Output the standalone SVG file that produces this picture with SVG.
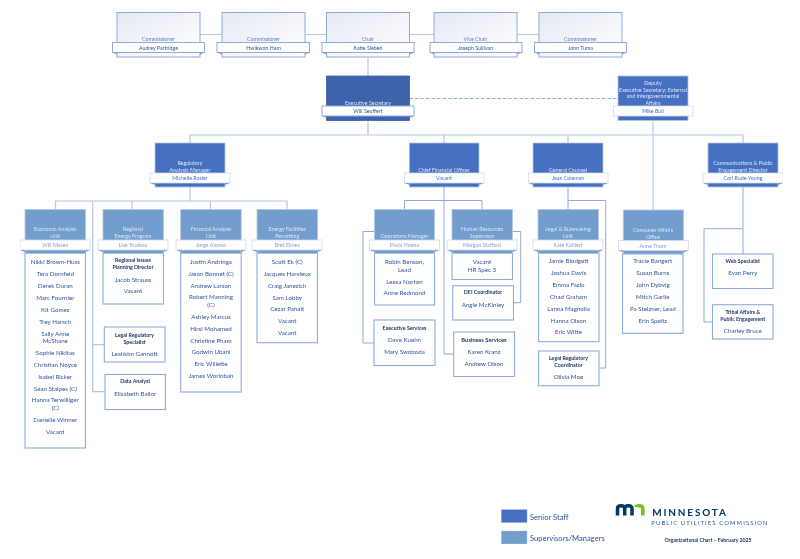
<svg xmlns="http://www.w3.org/2000/svg" width="800" height="559" viewBox="0 0 800 559">
<style>
text{font-family:Lato,"Liberation Sans",sans-serif;text-anchor:middle;dominant-baseline:central}
.c{fill:url(#cg);stroke:#8FAADC;stroke-width:1}
.s{fill:#4470C2;stroke:#B4C7E7;stroke-width:.8}
.x{fill:#3C64AC;stroke:#3C64AC;stroke-width:.8}
.m{fill:#739DCC;stroke:#B4C7E7;stroke-width:.8}
.l{fill:#fff;stroke:#8FAADC;stroke-width:1.1}
.b{fill:#fff;stroke:#8FAADC;stroke-width:1}
.bs{fill:#fff;stroke:#D0DBF0;stroke-width:.8}
.f{fill:#7F9BD0}
.t{font-size:5.3px;fill:#DCE5F5}
.tc{font-size:5.3px;fill:#5A7DBE}
.n{font-size:5.3px;fill:#2F5597}
.nb{font-size:5.3px;fill:#4472C4}
.nm{font-size:5.3px;fill:#7FA3D2}
.p{font-size:6.2px;fill:#2F5597}
.h{font-size:5.3px;font-weight:700;fill:#1F3864}
.ln{fill:none;stroke:#B4C7E7;stroke-width:1.2}
.dk{fill:none;stroke:#8FAADC;stroke-width:1}
.dh{fill:none;stroke:#8FAADC;stroke-width:1;stroke-dasharray:3.5 2}
.lg{font-size:7.6px;fill:#2F5597;text-anchor:start}
</style>
<defs><linearGradient id="cg" x1="0" y1="0" x2="1" y2="1"><stop offset="0" stop-color="#E6E9F4"/><stop offset="1" stop-color="#fff"/></linearGradient>
<filter id="soft" x="0" y="0" width="100%" height="100%"><feGaussianBlur stdDeviation="0.3"/></filter></defs>
<rect width="800" height="559" fill="#fff"/>
<g id="diagram" filter="url(#soft)">
<g id="connectors">
<path class="ln" d="M200 34.500H222M305 34.500H326.500M409.500 34.500H434M517 34.500H539M368 57V76M368 120.500V135M190 143V135H743V143M653 120.500V210M444 135V143M568 135V143"/>
<path class="dh" d="M409.500 98.500H617"/>
<path class="ln" d="M190 187V201M55.500 209V201H287V209M132 201V209M210.500 201V209M92.700 201V391.700H105M92.700 344.700H104.500"/>
<path class="dk" d="M444 187V354H453.700M404.500 209V200.500H482V209M374.500 231.500H363V343H374M512.500 231.500H520.700V302.700H513.500"/>
<path class="dk" d="M568 187V209.500M568 200.500H605.700V368H599"/>
<path class="dk" d="M743 187V254M743 228.700H704V322H712.500"/>
</g>
<g id="commissioner-partridge"><rect class="c" x="117" y="12.500" width="83" height="44.500"/><text class="tc" x="158.500" y="39">Commissioner</text><rect class="b" x="112.500" y="42.500" width="92" height="10"/><path class="f" d="M112.500 52.500H117V54.500zM204.500 52.500H200V54.500z"/><text class="n" x="158.500" y="47.500">Audrey Partridge</text></g>
<g id="commissioner-ham"><rect class="c" x="222" y="12.500" width="83" height="44.500"/><text class="tc" x="263.500" y="39">Commissioner</text><rect class="b" x="217" y="42.500" width="92.500" height="10"/><path class="f" d="M217 52.500H222V54.500zM309.500 52.500H305V54.500z"/><text class="n" x="263.500" y="47.500">Hwikwon Ham</text></g>
<g id="chair"><rect class="c" x="326.500" y="12.500" width="83" height="44.500"/><text class="tc" x="368" y="39">Chair</text><rect class="b" x="322" y="42.500" width="92" height="10"/><path class="f" d="M322 52.500H326.500V54.500zM414 52.500H409.500V54.500z"/><text class="n" x="368" y="47.500">Katie Sieben</text></g>
<g id="vice-chair"><rect class="c" x="434" y="12.500" width="83" height="44.500"/><text class="tc" x="475.500" y="39">Vice Chair</text><rect class="b" x="430" y="42.500" width="92" height="10"/><path class="f" d="M430 52.500H434V54.500zM522 52.500H517V54.500z"/><text class="n" x="475.500" y="47.500">Joseph Sullivan</text></g>
<g id="commissioner-tuma"><rect class="c" x="539" y="12.500" width="83" height="44.500"/><text class="tc" x="580.500" y="39">Commissioner</text><rect class="b" x="534.500" y="42.500" width="92" height="10"/><path class="f" d="M534.500 52.500H539V54.500zM626.500 52.500H622V54.500z"/><text class="n" x="580.500" y="47.500">John Tuma</text></g>
<g id="executive-secretary"><rect class="x" x="326.500" y="76" width="83" height="44.500"/><text class="t" x="368" y="103">Executive Secretary</text><rect class="b" x="322" y="106" width="92" height="10"/><path class="f" d="M322 116H326.500V118zM414 116H409.500V118z"/><text class="n" x="368" y="111">Will Seuffert</text></g>
<g id="deputy"><rect class="s" x="618" y="76" width="70" height="44.500"/><text class="t" x="653" y="82.500">Deputy</text><text class="t" x="653" y="89.500">Executive Secretary; External</text><text class="t" x="653" y="96">and Intergovernmental</text><text class="t" x="653" y="103">Affairs</text><rect class="bs" x="613.500" y="106" width="79.500" height="10"/><text class="nb" x="653" y="111">Mike Bull</text></g>
<g id="regulatory"><rect class="s" x="155" y="143" width="70" height="44"/><text class="t" x="190" y="163">Regulatory</text><text class="t" x="190" y="170">Analysis Manager</text><rect class="bs" x="150" y="173" width="80" height="10"/><path class="f" d="M150 183H155V185zM230 183H225V185z"/><text class="nb" x="190" y="178">Michelle Rosier</text></g>
<g id="cfo"><rect class="s" x="409.300" y="143" width="69.700" height="44"/><text class="t" x="444" y="170">Chief Financial Officer</text><rect class="bs" x="404.500" y="173" width="79.500" height="10"/><path class="f" d="M404.500 183H409.300V185zM484 183H479V185z"/><text class="nb" x="444" y="178">Vacant</text></g>
<g id="general-counsel"><rect class="s" x="533" y="143" width="70" height="44"/><text class="t" x="568" y="170">General Counsel</text><rect class="bs" x="528.500" y="173" width="79.500" height="10"/><path class="f" d="M528.500 183H533V185zM608 183H603V185z"/><text class="nb" x="568" y="178">Jean Coleman</text></g>
<g id="communications"><rect class="s" x="708" y="143" width="70" height="44"/><text class="t" x="743" y="163">Communications &amp; Public</text><text class="t" x="743" y="170">Engagement Director</text><rect class="bs" x="703" y="173" width="80" height="10"/><path class="f" d="M703 183H708V185zM783 183H778V185z"/><text class="nb" x="743" y="178">Cori Rude-Young</text></g>
<g id="economic-analysis"><rect class="l" x="25" y="253" width="60.500" height="195"/><rect class="m" x="25" y="209.500" width="60.500" height="44"/><text class="t" x="55.300" y="229">Economic Analysis</text><text class="t" x="55.300" y="236">Unit</text><rect class="bs" x="20" y="240" width="70" height="10"/><path class="f" d="M20 250H25V252zM90 250H85.500V252z"/><text class="nm" x="55.300" y="245">Will Nissen</text>
<text class="p" x="55.300" y="261.700">Nikki Brown-Huss</text><text class="p" x="55.300" y="273.700">Tera Dornfeld</text><text class="p" x="55.300" y="285.500">Derek Duran</text><text class="p" x="55.300" y="297.500">Marc Fournier</text><text class="p" x="55.300" y="309.500">Kit Gomez</text><text class="p" x="55.300" y="321">Trey Harsch</text><text class="p" x="55.300" y="333">Sally Anne</text><text class="p" x="55.300" y="340.700">McShane</text><text class="p" x="55.300" y="352.300">Sophie Nikitas</text><text class="p" x="55.300" y="364.300">Christian Noyce</text><text class="p" x="55.300" y="376">Isabel Ricker</text><text class="p" x="55.300" y="388">Sean Stalpes (C)</text><text class="p" x="55.300" y="399.700">Hanna Terwilliger</text><text class="p" x="55.300" y="407">(C)</text><text class="p" x="55.300" y="419">Danielle Winner</text><text class="p" x="55.300" y="431">Vacant</text></g>
<g id="regional-energy"><rect class="l" x="103" y="253" width="60.500" height="51"/><rect class="m" x="103" y="209.500" width="60.500" height="44"/><text class="t" x="133" y="229">Regional</text><text class="t" x="133" y="236">Energy Program</text><rect class="bs" x="98" y="240" width="70" height="10"/><path class="f" d="M98 250H103V252zM168 250H163.500V252z"/><text class="nm" x="133" y="245">Lise Trudeau</text>
<text class="h" x="133" y="260">Regional Issues</text><text class="h" x="133" y="267">Planning Director</text><text class="p" x="133" y="279">Jacob Strauss</text><text class="p" x="133" y="290.700">Vacant</text></g>
<g id="legal-regulatory-specialist"><rect class="l" x="104.300" y="327" width="60.700" height="35"/><text class="h" x="134.600" y="334.500">Legal Regulatory</text><text class="h" x="134.600" y="341.500">Specialist</text><text class="p" x="134.600" y="353">Leahkim Gannott</text></g>
<g id="data-analyst"><rect class="l" x="105" y="374.500" width="60.500" height="35"/><text class="h" x="135.300" y="381">Data Analyst</text><text class="p" x="135.300" y="393">Elizabeth Ballor</text></g>
<g id="financial-analysis"><rect class="l" x="180.700" y="253" width="60.500" height="139"/><rect class="m" x="180.700" y="209.500" width="60.500" height="44"/><text class="t" x="211" y="229">Financial Analysis</text><text class="t" x="211" y="236">Unit</text><rect class="bs" x="176" y="240" width="70" height="10"/><path class="f" d="M176 250H180.700V252zM246 250H241.200V252z"/><text class="nm" x="211" y="245">Jorge Alonso</text>
<text class="p" x="211" y="261">Justin Andringa</text><text class="p" x="211" y="273">Jason Bonnet (C)</text><text class="p" x="211" y="285">Andrew Larson</text><text class="p" x="211" y="296.700">Robert Manning</text><text class="p" x="211" y="304.500">(C)</text><text class="p" x="211" y="316">Ashley Marcus</text><text class="p" x="211" y="328">Hirsi Mohamed</text><text class="p" x="211" y="340">Christine Pham</text><text class="p" x="211" y="351.700">Godwin Ubani</text><text class="p" x="211" y="363.700">Eric Willette</text><text class="p" x="211" y="375.700">James Worlobah</text></g>
<g id="energy-facilities"><rect class="l" x="257" y="253" width="60.500" height="89.700"/><rect class="m" x="257" y="209.500" width="60.500" height="44"/><text class="t" x="287.200" y="229">Energy Facilities</text><text class="t" x="287.200" y="236">Permitting</text><rect class="bs" x="252" y="240" width="70" height="10"/><path class="f" d="M252 250H257V252zM322 250H317.500V252z"/><text class="nm" x="287.200" y="245">Bret Eknes</text>
<text class="p" x="287.200" y="261">Scott Ek (C)</text><text class="p" x="287.200" y="273">Jacques Harvieux</text><text class="p" x="287.200" y="285">Craig Janezich</text><text class="p" x="287.200" y="297">Sam Lobby</text><text class="p" x="287.200" y="308.700">Cezar Panait</text><text class="p" x="287.200" y="320.500">Vacant</text><text class="p" x="287.200" y="332.500">Vacant</text></g>
<g id="operations"><rect class="l" x="374.500" y="253" width="60" height="52"/><rect class="m" x="374.500" y="209.500" width="60" height="44"/><text class="t" x="404.500" y="236">Operations Manager</text><rect class="bs" x="369.500" y="240" width="70" height="10"/><path class="f" d="M369.500 250H374.500V252zM439.500 250H434.500V252z"/><text class="nm" x="404.500" y="245">Paula Hoena</text>
<text class="p" x="404.500" y="261">Robin Benson,</text><text class="p" x="404.500" y="269">Lead</text><text class="p" x="404.500" y="281">Leesa Norton</text><text class="p" x="404.500" y="292.700">Anne Redmond</text></g>
<g id="executive-services"><rect class="l" x="374" y="320" width="61" height="45.500"/><text class="h" x="404.500" y="328">Executive Services</text><text class="p" x="404.500" y="339.500">Dave Kuehn</text><text class="p" x="404.500" y="351.500">Mary Swoboda</text></g>
<g id="human-resources"><rect class="l" x="452" y="253" width="60.500" height="26.500"/><rect class="m" x="452" y="209.500" width="60.500" height="44"/><text class="t" x="482" y="229">Human Resources</text><text class="t" x="482" y="236">Supervisor</text><rect class="bs" x="447" y="240" width="70" height="10"/><path class="f" d="M447 250H452V252zM517 250H512.500V252z"/><text class="nm" x="482" y="245">Morgan Stafford</text>
<text class="p" x="482" y="261">Vacant</text><text class="p" x="482" y="269">HR Spec 3</text></g>
<g id="dei-coordinator"><rect class="l" x="452.700" y="285.700" width="60.800" height="34.300"/><text class="h" x="483" y="292">DEI Coordinator</text><text class="p" x="483" y="304">Angie McKinley</text></g>
<g id="business-services"><rect class="l" x="453.700" y="332" width="60.800" height="44.500"/><text class="h" x="484" y="339" style="font-size:5.800px">Business Services</text><text class="p" x="484" y="351">Karen Kranz</text><text class="p" x="484" y="363">Andrew Olson</text></g>
<g id="legal-rulemaking"><rect class="l" x="538.500" y="253" width="60.500" height="88.700"/><rect class="m" x="538" y="209.500" width="60.500" height="44"/><text class="t" x="568" y="229">Legal &amp; Rulemaking</text><text class="t" x="568" y="236">Unit</text><rect class="bs" x="533" y="240" width="70" height="10"/><path class="f" d="M533 250H538V252zM603 250H598.500V252z"/><text class="nm" x="568" y="245">Kate Kahlert</text>
<text class="p" x="568.500" y="260.700">Jamie Blodgett</text><text class="p" x="568.500" y="272.500">Joshua Davis</text><text class="p" x="568.500" y="284.500">Emma Fazio</text><text class="p" x="568.500" y="296">Chad Graham</text><text class="p" x="568.500" y="308">Lanna Magnolia</text><text class="p" x="568.500" y="320">Hanna Olson</text><text class="p" x="568.500" y="331.500">Eric Witte</text></g>
<g id="legal-regulatory-coordinator"><rect class="l" x="538.500" y="351" width="60.500" height="34.700"/><text class="h" x="568.500" y="358">Legal Regulatory</text><text class="h" x="568.500" y="365">Coordinator</text><text class="p" x="568.500" y="376">Olivia Moe</text></g>
<g id="consumer-affairs"><rect class="l" x="622.500" y="254" width="60.500" height="79.300"/><rect class="m" x="623.300" y="210" width="60.200" height="44"/><text class="t" x="653" y="230">Consumer Affairs</text><text class="t" x="653" y="237">Office</text><rect class="bs" x="618.500" y="240.500" width="70" height="10"/><path class="f" d="M618.500 250.500H623.300V252.500zM688.500 250.500H683.500V252.500z"/><text class="nm" x="653" y="245.500">Anne Thom</text>
<text class="p" x="652.800" y="260.700">Tracie Bangert</text><text class="p" x="652.800" y="272.500">Susan Burns</text><text class="p" x="652.800" y="284.500">John Dybvig</text><text class="p" x="652.800" y="296.300">Mitch Garlie</text><text class="p" x="652.800" y="308">Pa Stelzner, Lead</text><text class="p" x="652.800" y="320">Erin Speltz</text></g>
<g id="web-specialist"><rect class="l" x="712.500" y="254" width="60.500" height="34.500"/><text class="h" x="742.800" y="261">Web Specialist</text><text class="p" x="742.800" y="272">Evan Perry</text></g>
<g id="tribal-affairs"><rect class="l" x="712.500" y="304.700" width="60.500" height="34.300"/><text class="h" x="742.800" y="311.500">Tribal Affairs &amp;</text><text class="h" x="742.800" y="318.500">Public Engagement</text><text class="p" x="742.800" y="330">Charley Bruce</text></g>
<g id="legend"><rect x="501.300" y="509.700" width="25.700" height="12.800" fill="#4470C2" stroke="#8FAADC" stroke-width=".5"/><text class="lg" x="530" y="517">Senior Staff</text><rect x="501.300" y="531" width="25.700" height="13" fill="#739DCC" stroke="#B4C7E7" stroke-width=".5"/><text class="lg" x="530" y="537.500">Supervisors/Managers</text></g>
<g id="logo"><path d="M617.500 515.500V508.500Q617.500 505.700 621 505.700Q624.700 505.700 624.700 508.500V515.500M624.700 508.500Q624.700 505.700 628.300 505.700Q632 505.700 632 508.500V515.500" fill="none" stroke="#003865" stroke-width="3.500"/><path d="M636 507Q636 505.700 639 505.700Q642.800 505.700 642.800 508.500V515.500" fill="none" stroke="#78BE21" stroke-width="3.500"/>
<text x="690" y="512" style="font-size:10px;font-weight:700;letter-spacing:1.800px;fill:#003865">MINNESOTA</text><text x="710" y="522.300" style="font-size:5.900px;letter-spacing:1.100px;fill:#2F5597">PUBLIC UTILITIES COMMISSION</text><text x="708" y="540" style="font-size:5.200px;font-weight:700;fill:#1F3864">Organizational Chart – February 2025</text></g>
</g>
</svg>
